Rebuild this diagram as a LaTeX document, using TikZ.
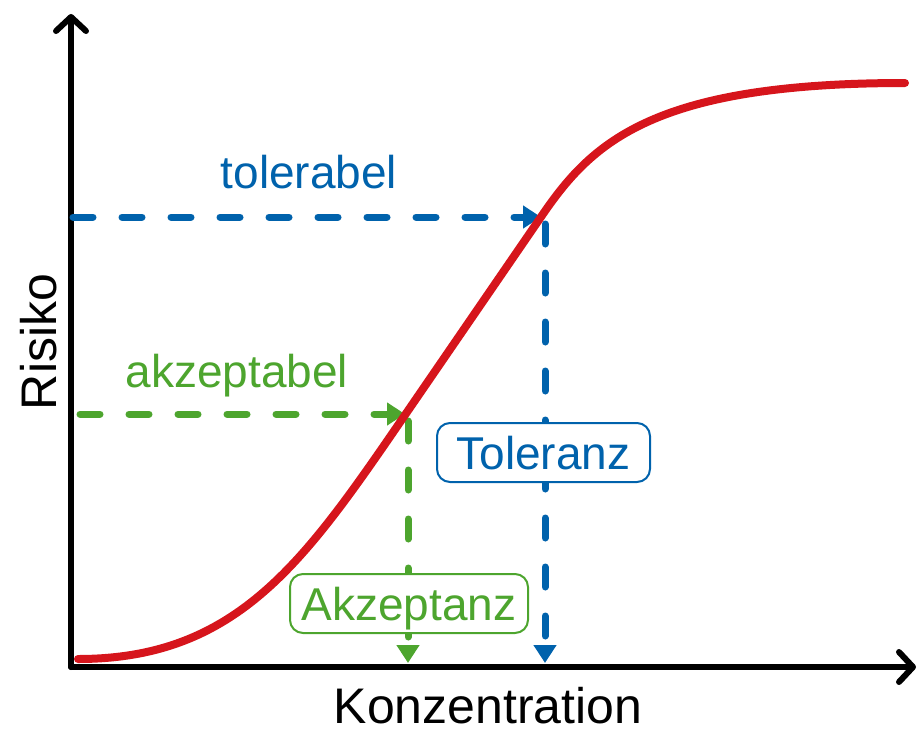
\documentclass[tikz,border=0pt]{standalone}
\usepackage{fontspec}
\setmainfont{Liberation Sans}
\usetikzlibrary{arrows.meta}
\definecolor{cred}{RGB}{214,21,28}
\definecolor{cblue}{RGB}{0,98,172}
\definecolor{cgreen}{RGB}{77,165,46}
\begin{document}
\begin{tikzpicture}[x=1pt,y=-1pt,
  axis/.style={line width=6pt,line cap=round,line join=round,-{Straight Barb[length=14pt,width=30pt,line cap=round,line join=round]}},
  guide/.style={line width=7pt,line cap=round,dash pattern=on 20pt off 29pt,-{Triangle[length=18pt,width=22pt,line cap=butt]}},
  lbl/.style={font=\fontsize{46}{55}\selectfont,anchor=base,inner sep=0pt},
  axlbl/.style={font=\fontsize{50}{60}\selectfont,anchor=base,inner sep=0pt},
  tag/.style={line width=2pt,fill=white,rounded corners=13pt,inner sep=0pt,
    text height=33pt,text depth=0pt,minimum height=59pt,font=\fontsize{46}{55}\selectfont}]
\useasboundingbox (0,0) rectangle (919,737);
% axes
\coordinate (O) at (71,667);
\coordinate (ytop) at (71,14);
\coordinate (xend) at (916,667);
\draw[axis] (O) -- (ytop);
\draw[axis] (O) -- (xend);
% guide points
\coordinate (tolL) at (73,217);
\coordinate (tolP) at (541,217);
\coordinate (tolV) at (545,224);
\coordinate (tolB) at (545,663);
\coordinate (akzL) at (80,414);
\coordinate (akzP) at (405,414);
\coordinate (akzV) at (408,421);
\coordinate (akzB) at (408,663);
% dashed guides
\draw[guide,cblue] (tolL) -- (tolP);
\draw[guide,cblue] (tolV) -- (tolB);
\draw[guide,cgreen] (akzL) -- (akzP);
\draw[guide,cgreen] (akzV) -- (akzB);
% tags
\node[tag,draw=cblue,text=cblue,minimum width=213pt] (tol) at (543.5,452.5) {Toleranz};
\node[tag,draw=cgreen,text=cgreen,minimum width=238pt] (akz) at (409,603.5) {Akzeptanz};
% curve
\draw[cred,line width=8pt,line cap=round,line join=round]
  (78,659) .. controls (238,659) and (305,560.7) .. (405,415)
  -- (543,214) .. controls (593,141.2) and (655,83) .. (905,83);
% labels
\node[lbl,cblue] (tolerabel) at (309,188) {tolerabel};
\node[lbl,cgreen] (akzeptabel) at (237,387) {akzeptabel};
\node[axlbl] (xlab) at (488,723) {Konzentration};
\node[axlbl,rotate=90] (ylab) at (56,342) {Risiko};
\end{tikzpicture}
\end{document}
